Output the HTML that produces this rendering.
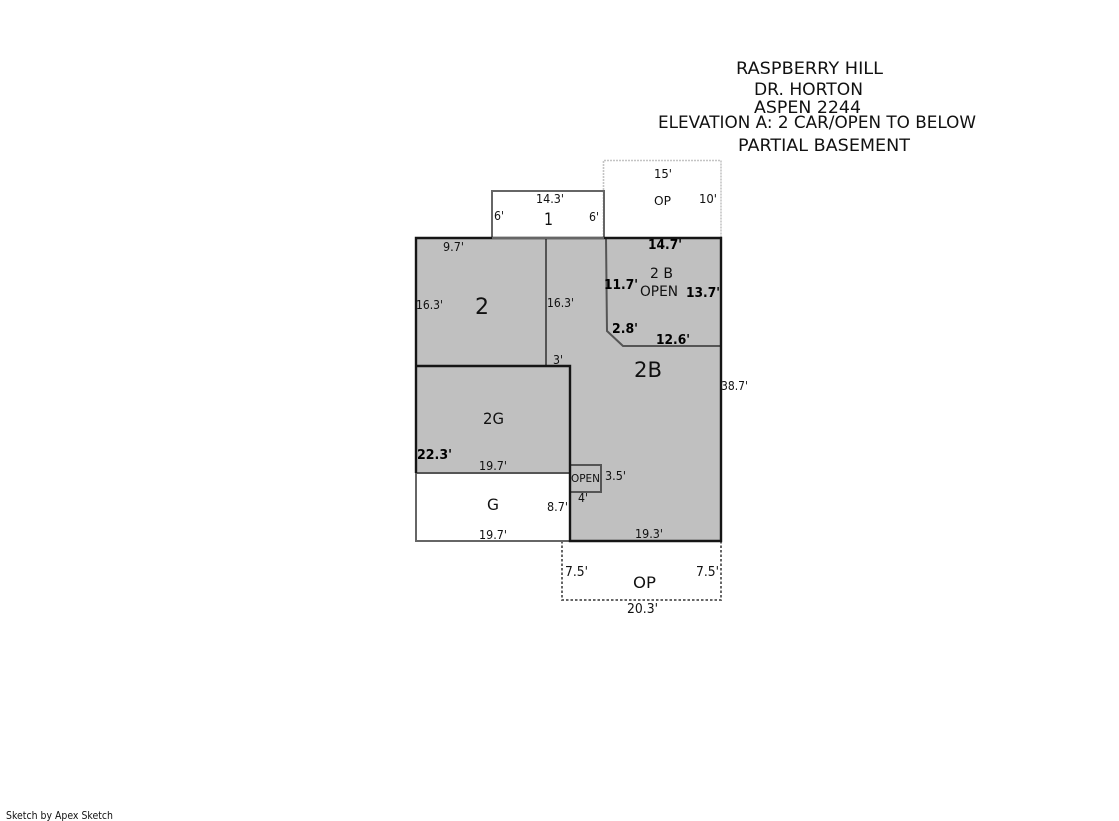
<!DOCTYPE html>
<html><head><meta charset="utf-8"><style>
html,body{margin:0;padding:0;background:#fff;width:1119px;height:821px;overflow:hidden}
svg{display:block}
text{font-family:"DejaVu Sans","Liberation Sans",sans-serif;fill:#111;font-size:12.5px}
.b{font-weight:bold;font-size:13.5px;fill:#000}
.t{font-size:17px}
</style></head><body>
<svg width="1119" height="821" viewBox="0 0 1119 821" xmlns="http://www.w3.org/2000/svg">
<rect width="1119" height="821" fill="#fff"/>
<polygon points="416,238 721,238 721,541 570,541 570,473 416,473" fill="#c0c0c0"/>
<path d="M603.5,238V160.5H721V238" fill="none" stroke="#c4c4c4" stroke-width="1.6" stroke-dasharray="2 1"/>
<path d="M492,238V191H604V238" fill="none" stroke="#666" stroke-width="2"/>
<path d="M562,541V600H721V541" fill="none" stroke="#666" stroke-width="2" stroke-dasharray="2.5 2"/>
<path d="M416,473V541H570" fill="none" stroke="#666" stroke-width="2"/>
<path d="M546,238V366" fill="none" stroke="#555" stroke-width="2"/>
<path d="M606,238L607,331L623,346H721" fill="none" stroke="#555" stroke-width="2"/>
<path d="M416,473H570" fill="none" stroke="#555" stroke-width="2"/>
<path d="M570,465H601V492H570" fill="none" stroke="#555" stroke-width="2"/>
<path d="M416,473V238H721V541H570V366H416" fill="none" stroke="#151515" stroke-width="2.4"/>
<path d="M492,238H604" fill="none" stroke="#666" stroke-width="2"/>

<text class="t" x="736" y="74" textLength="147" lengthAdjust="spacingAndGlyphs">RASPBERRY HILL</text>
<text class="t" x="754" y="95" textLength="109" lengthAdjust="spacingAndGlyphs">DR. HORTON</text>
<text class="t" x="754" y="113" textLength="107" lengthAdjust="spacingAndGlyphs">ASPEN 2244</text>
<text class="t" x="658" y="128" textLength="318" lengthAdjust="spacingAndGlyphs">ELEVATION A: 2 CAR/OPEN TO BELOW</text>
<text class="t" x="738" y="151" textLength="172" lengthAdjust="spacingAndGlyphs">PARTIAL BASEMENT</text>

<text x="654" y="178" textLength="18" lengthAdjust="spacingAndGlyphs">15'</text>
<text x="654" y="205" textLength="17" lengthAdjust="spacingAndGlyphs">OP</text>
<text x="699" y="203" textLength="18" lengthAdjust="spacingAndGlyphs">10'</text>
<text x="536" y="203" textLength="28" lengthAdjust="spacingAndGlyphs">14.3'</text>
<text x="494" y="220" textLength="10" lengthAdjust="spacingAndGlyphs">6'</text>
<text x="544" y="225" style="font-size:17px" textLength="9" lengthAdjust="spacingAndGlyphs">1</text>
<text x="589" y="221" textLength="10" lengthAdjust="spacingAndGlyphs">6'</text>
<text x="443" y="251" textLength="21" lengthAdjust="spacingAndGlyphs">9.7'</text>
<text class="b" x="648" y="249" textLength="34" lengthAdjust="spacingAndGlyphs">14.7'</text>
<text x="650" y="278" style="font-size:14.5px" textLength="23" lengthAdjust="spacingAndGlyphs">2 B</text>
<text x="640" y="296" style="font-size:14px" textLength="38" lengthAdjust="spacingAndGlyphs">OPEN</text>
<text class="b" x="604" y="289" textLength="34" lengthAdjust="spacingAndGlyphs">11.7'</text>
<text class="b" x="686" y="297" textLength="34" lengthAdjust="spacingAndGlyphs">13.7'</text>
<text x="416" y="309" textLength="27" lengthAdjust="spacingAndGlyphs">16.3'</text>
<text x="547" y="307" textLength="27" lengthAdjust="spacingAndGlyphs">16.3'</text>
<text x="475" y="314" style="font-size:22px" textLength="14" lengthAdjust="spacingAndGlyphs">2</text>
<text class="b" x="612" y="333" textLength="26" lengthAdjust="spacingAndGlyphs">2.8'</text>
<text class="b" x="656" y="344" textLength="34" lengthAdjust="spacingAndGlyphs">12.6'</text>
<text x="553" y="364" textLength="10" lengthAdjust="spacingAndGlyphs">3'</text>
<text x="634" y="377" style="font-size:21px" textLength="28" lengthAdjust="spacingAndGlyphs">2B</text>
<text x="721" y="390" textLength="27" lengthAdjust="spacingAndGlyphs">38.7'</text>
<text x="483" y="424" style="font-size:16px" textLength="21" lengthAdjust="spacingAndGlyphs">2G</text>
<text class="b" x="417" y="459" textLength="35" lengthAdjust="spacingAndGlyphs">22.3'</text>
<text x="479" y="470" textLength="28" lengthAdjust="spacingAndGlyphs">19.7'</text>
<text x="571" y="482" style="font-size:10.5px" textLength="29" lengthAdjust="spacingAndGlyphs">OPEN</text>
<text x="605" y="480" textLength="21" lengthAdjust="spacingAndGlyphs">3.5'</text>
<text x="578" y="502" textLength="10" lengthAdjust="spacingAndGlyphs">4'</text>
<text x="487" y="510" style="font-size:16px" textLength="12" lengthAdjust="spacingAndGlyphs">G</text>
<text x="547" y="511" textLength="21" lengthAdjust="spacingAndGlyphs">8.7'</text>
<text x="479" y="539" textLength="28" lengthAdjust="spacingAndGlyphs">19.7'</text>
<text x="635" y="538" textLength="28" lengthAdjust="spacingAndGlyphs">19.3'</text>
<text x="565" y="576" style="font-size:13px" textLength="23" lengthAdjust="spacingAndGlyphs">7.5'</text>
<text x="696" y="576" style="font-size:13px" textLength="23" lengthAdjust="spacingAndGlyphs">7.5'</text>
<text x="633" y="588" style="font-size:16px" textLength="23" lengthAdjust="spacingAndGlyphs">OP</text>
<text x="627" y="613" style="font-size:13px" textLength="31" lengthAdjust="spacingAndGlyphs">20.3'</text>
<text x="6" y="819" style="font-size:10.5px" textLength="107" lengthAdjust="spacingAndGlyphs">Sketch by Apex Sketch</text>
</svg>
</body></html>
